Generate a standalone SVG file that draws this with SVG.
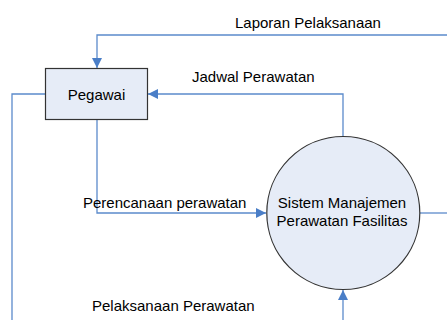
<svg xmlns="http://www.w3.org/2000/svg" width="447" height="320" viewBox="0 0 447 320">
  <defs>
    <marker id="arrow" viewBox="0 0 10 10" refX="10" refY="5" markerWidth="10" markerHeight="10" markerUnits="userSpaceOnUse" orient="auto">
      <path d="M0,0 L10,5 L0,10 Z" fill="#4A7EC7"/>
    </marker>
  </defs>
  <style>
    .flow { fill: none; stroke: #5B8ACB; stroke-width: 1.3; }
    .node { fill: #E6ECF7; stroke: #333; stroke-width: 1.2; }
    .label { font-family: "Liberation Sans", Arial, sans-serif; font-size: 15px; fill: #000; }
  </style>
  <rect width="447" height="320" fill="#fff"/>

  <g id="connectors">
    <!-- Laporan Pelaksanaan -->
    <path class="flow" d="M447,35 H97 V68" marker-end="url(#arrow)"/>
    <!-- Jadwal Perawatan -->
    <path class="flow" d="M343,136 V94 H148" marker-end="url(#arrow)"/>
    <!-- Perencanaan perawatan -->
    <path class="flow" d="M97,119 V213 H266" marker-end="url(#arrow)"/>
    <!-- Pelaksanaan Perawatan -->
    <path class="flow" d="M343,320 V290" marker-end="url(#arrow)"/>
    <!-- outgoing flows -->
    <path class="flow" d="M45,94 H12 V320"/>
    <path class="flow" d="M420,213 H447"/>
  </g>

  <g id="pegawai">
    <rect class="node" x="45.5" y="68.5" width="102" height="51"/>
    <text class="label" x="96.5" y="99.5" text-anchor="middle">Pegawai</text>
  </g>

  <g id="sistem">
    <circle class="node" cx="343.3" cy="213" r="76.5"/>
    <text class="label" x="342" y="208" text-anchor="middle">Sistem Manajemen</text>
    <text class="label" x="342" y="226" text-anchor="middle">Perawatan Fasilitas</text>
  </g>

  <g id="labels">
    <text class="label" x="235" y="28">Laporan Pelaksanaan</text>
    <text class="label" x="192" y="82">Jadwal Perawatan</text>
    <text class="label" x="83" y="208">Perencanaan perawatan</text>
    <text class="label" x="92" y="311">Pelaksanaan Perawatan</text>
  </g>
</svg>
